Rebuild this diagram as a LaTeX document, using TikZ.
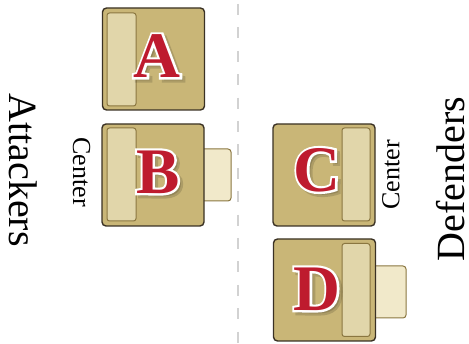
\documentclass[tikz,border=0pt]{standalone}
\usepackage{fontspec}
\setmainfont{Liberation Serif}
\newfontface\capface{Liberation Serif Bold}
\newfontface\rimface{Liberation Serif Bold}[FakeBold=7]
\usetikzlibrary{calc}

\definecolor{cardfill}{HTML}{C9B677}
\definecolor{cardline}{HTML}{3A3124}
\definecolor{stripfill}{HTML}{E1D6AA}
\definecolor{stripline}{HTML}{8A7640}
\definecolor{tabfill}{HTML}{F1E9CA}
\definecolor{letterred}{HTML}{BE1B2E}
\definecolor{divcolor}{HTML}{D2D2D2}

% A red capital with a white rim and a soft drop shadow
\newcommand\stampletter[3]{%
  \node[rimfont, text=black, text opacity=0.14] (#1shadow) at ($(#2)+(3,3)$) {#3};
  \node[rimfont, text=white] (#1rim) at (#2) {#3};
  \node[letterfont, text=letterred] (#1) at (#2) {#3};
}

\begin{document}
\begin{tikzpicture}[x=1pt,y=-1pt,
  card/.style={draw=cardline, fill=cardfill, line width=1.4pt, rounded corners=4pt,
    minimum width=102pt, minimum height=102pt, inner sep=0pt},
  strip/.style={draw=stripline, fill=stripfill, line width=1pt, rounded corners=2.5pt,
    minimum width=29pt, minimum height=93pt, inner sep=0pt},
  tab/.style={draw=stripline, fill=tabfill, line width=1pt, rounded corners=3pt,
    minimum height=52pt, inner sep=0pt},
  letterfont/.style={font=\fontsize{65}{65}\capface, inner sep=0pt},
  rimfont/.style={font=\fontsize{65}{65}\rimface, inner sep=0pt},
  side/.style={font=\fontsize{40}{40}\selectfont, inner sep=0pt},
  posname/.style={font=\fontsize{26}{26}\selectfont, inner sep=0pt},
  divider/.style={draw=divcolor, line width=2pt, dash pattern=on 11pt off 12.4pt, dash phase=19.4pt}
]
\useasboundingbox (0,0) rectangle (469,344);

% centre line between the two sides
\coordinate (divtop) at (237.7,0);
\coordinate (divbot) at (237.7,344);
\draw[divider] (divtop) -- (divbot);

% side titles
\node[side, rotate=-90] (attackers) at (23.5,170) {Attackers};
\node[side, rotate=90] (defenders) at (451,179) {Defenders};

% card A
\node[card] (cardA) at (153.5,59) {};
\node[strip] (stripA) at (121.5,59.5) {};
\stampletter{letA}{157,56}{A}

% card B with its tab
\node[tab, minimum width=31pt] (tabB) at (215.5,175) {};
\node[card] (cardB) at (153,175) {};
\node[strip] (stripB) at (121.5,174.5) {};
\stampletter{letB}{158,172}{B}
\node[posname, rotate=-90] (centerB) at (81.5,172) {Center};

% card C
\node[card] (cardC) at (324,175) {};
\node[strip, minimum width=28pt] (stripC) at (356,174.5) {};
\stampletter{letC}{317,170}{C}
\node[posname, rotate=90] (centerC) at (391,175) {Center};

% card D with its tab
\node[tab, minimum width=34pt] (tabD) at (389,292) {};
\node[card] (cardD) at (324.5,290) {};
\node[strip, minimum width=28pt] (stripD) at (356,290) {};
\stampletter{letD}{317,289}{D}
\end{tikzpicture}
\end{document}
